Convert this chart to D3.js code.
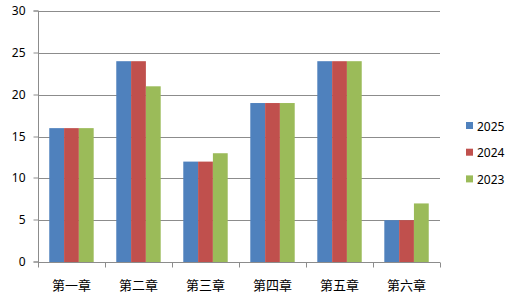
<!DOCTYPE html>
<html><head><meta charset="utf-8">
<script src="https://cdn.jsdelivr.net/npm/d3@7"></script>
<style>body{margin:0;background:#fff}svg{display:block}text{font-family:"Noto Sans","Noto Sans CJK SC",sans-serif;fill:#000}</style>
</head><body>
<svg id="c" width="528" height="303"></svg>
<script>
const categories = ["第一章","第二章","第三章","第四章","第五章","第六章"];
const seriesNames = ["2025","2024","2023"];
const s2025 = [16,24,12,19,24,5];
const s2024 = [16,24,12,19,24,5];
const s2023 = [16,21,13,19,24,7];
const yTicks = [0,5,10,15,20,25,30];
const colors = ["#4F81BD","#C0504D","#9BBB59"];
const seriesVals = [s2025,s2024,s2023];

const svg = d3.select("#c");
const L = 38, R = 440, T = 11, B = 262;
const x = d3.scaleBand().domain(categories).range([L,R]).paddingInner(0.337).paddingOuter(0.168);
const x1 = d3.scaleBand().domain(seriesNames).range([0,x.bandwidth()]);
const y = d3.scaleLinear().domain([0,30]).range([B,T]);

// gridlines
svg.append("g").selectAll("line").data(yTicks.filter(d=>d>0)).join("line")
  .attr("x1",L).attr("x2",R).attr("y1",d=>Math.round(y(d))+0.5).attr("y2",d=>Math.round(y(d))+0.5)
  .attr("stroke","#8c8c8c").attr("stroke-width",1);

// bars
const g = svg.append("g");
categories.forEach((c,i)=>{
  seriesNames.forEach((s,j)=>{
    const v = seriesVals[j][i];
    g.append("rect").attr("x",x(c)+x1(s)).attr("width",x1.bandwidth())
      .attr("y",y(v)).attr("height",B-y(v)).attr("fill",colors[j]);
  });
});

// y axis
const ya = d3.axisLeft(y).tickValues(yTicks).tickSize(5).tickPadding(8);
const yg = svg.append("g").attr("transform",`translate(${L+0.5},0)`).call(ya);
yg.select(".domain").attr("stroke","#8c8c8c").attr("d",`M-5,${B}H0V${T}H-5`);
yg.selectAll(".tick line").attr("stroke","#8c8c8c");
yg.selectAll(".tick text").attr("font-size",12).attr("fill","#000");
yg.selectAll(".tick").attr("transform",d=>`translate(0,${Math.round(y(d))})`);

// x axis
const xg = svg.append("g").attr("transform",`translate(0,${B+0.5})`);
xg.append("line").attr("x1",L).attr("x2",R).attr("stroke","#8c8c8c");
const bounds = d3.range(categories.length+1).map(i=>L+(R-L)*i/categories.length);
xg.selectAll("line.t").data(bounds).join("line").attr("class","t")
  .attr("x1",d=>Math.round(d)+0.5).attr("x2",d=>Math.round(d)+0.5).attr("y1",0).attr("y2",5).attr("stroke","#8c8c8c");
xg.selectAll("text").data(categories).join("text")
  .attr("x",d=>x(d)+x.bandwidth()/2).attr("y",27).attr("text-anchor","middle")
  .attr("font-size",13).style("font-family","'Noto Sans CJK SC',sans-serif").text(d=>d);

// legend
const lg = svg.append("g");
seriesNames.forEach((s,j)=>{
  const cy = 126 + j*26.7;
  lg.append("rect").attr("x",466).attr("y",cy-4).attr("width",7).attr("height",7).attr("fill",colors[j]);
  lg.append("text").attr("x",477).attr("y",cy+4.5).attr("font-size",12).text(s);
});
</script>
</body></html>
